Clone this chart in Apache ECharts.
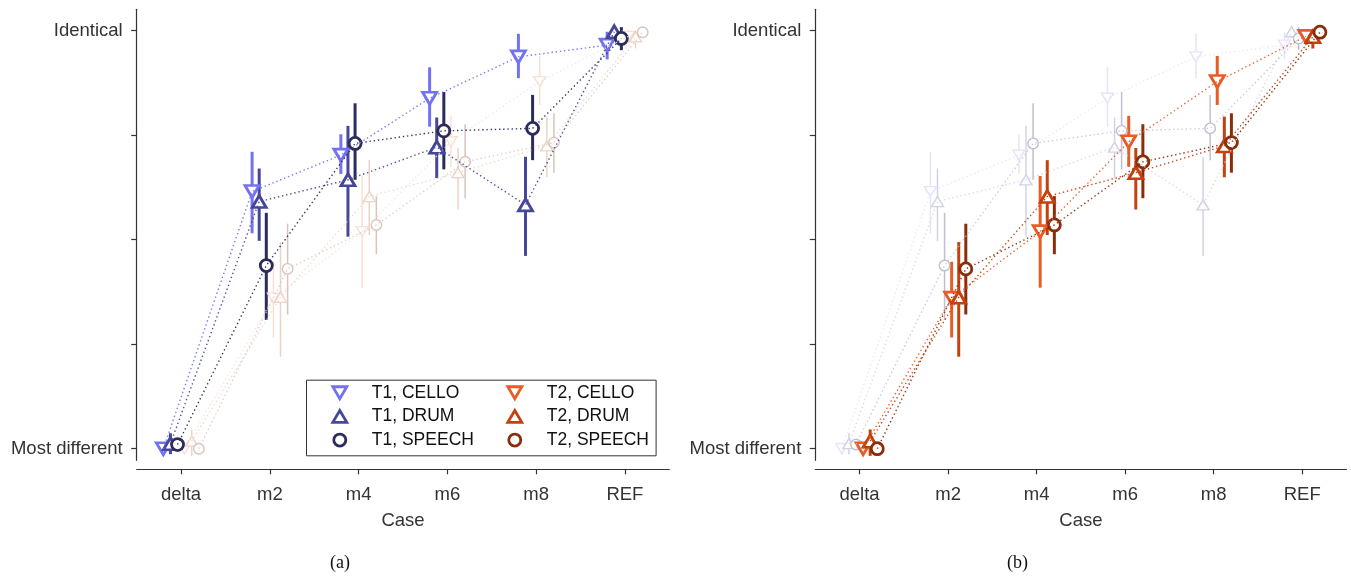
<!DOCTYPE html>
<html>
<head>
<meta charset="utf-8">
<script src="https://cdn.jsdelivr.net/npm/echarts@6/dist/echarts.min.js"></script>
<style>
html, body { margin: 0; padding: 0; background: #fff; }
#chart { width: 1351px; height: 576px; }
</style>
</head>
<body>
<div id="chart"></div>
<script>
// categories and series
var cases = ['delta', 'm2', 'm4', 'm6', 'm8', 'REF'];
var names = ['T1, CELLO', 'T1, DRUM', 'T1, SPEECH', 'T2, CELLO', 'T2, DRUM', 'T2, SPEECH'];
var offsets = [-0.2, -0.12, -0.04, 0.04, 0.12, 0.2];
var yTicks = [0, 0.25, 0.5, 0.75, 1];

// mean scores, lower and upper ends of the error bars
var t1Cello   = [0.0,   0.615, 0.702, 0.838, 0.937, 0.965];
var t1CelloLo = [-0.01, 0.515, 0.657, 0.770, 0.886, 0.931];
var t1CelloHi = [0.01,  0.710, 0.752, 0.912, 0.992, 0.997];

var t1Drum   = [0.012,  0.591, 0.643, 0.721, 0.583, 0.997];
var t1DrumLo = [-0.013, 0.497, 0.507, 0.647, 0.461, 0.982];
var t1DrumHi = [0.037,  0.670, 0.772, 0.792, 0.698, 1.010];

var t1Speech   = [0.01, 0.438, 0.730, 0.760, 0.766, 0.981];
var t1SpeechLo = [0.0,  0.308, 0.643, 0.668, 0.690, 0.953];
var t1SpeechHi = [0.02, 0.564, 0.826, 0.853, 0.846, 1.008];

var t2Cello   = [0.0,    0.360, 0.519, 0.734, 0.878, 0.986];
var t2CelloLo = [-0.012, 0.266, 0.385, 0.674, 0.822, 0.969];
var t2CelloHi = [0.012,  0.447, 0.652, 0.796, 0.939, 1.001];

var t2Drum   = [0.018,  0.362, 0.603, 0.660, 0.724, 0.985];
var t2DrumLo = [-0.017, 0.220, 0.511, 0.572, 0.649, 0.957];
var t2DrumHi = [0.046,  0.494, 0.690, 0.719, 0.794, 1.001];

var t2Speech   = [0.0,    0.430, 0.535, 0.686, 0.732, 0.996];
var t2SpeechLo = [-0.005, 0.321, 0.465, 0.599, 0.660, 0.990];
var t2SpeechHi = [0.005,  0.538, 0.604, 0.776, 0.802, 1.000];

var means = [t1Cello, t1Drum, t1Speech, t2Cello, t2Drum, t2Speech];
var lows  = [t1CelloLo, t1DrumLo, t1SpeechLo, t2CelloLo, t2DrumLo, t2SpeechLo];
var highs = [t1CelloHi, t1DrumHi, t1SpeechHi, t2CelloHi, t2DrumHi, t2SpeechHi];

var strong = ['#7272f2', '#47479a', '#2b2b5c', '#e85d26', '#c4400c', '#8a2d0b'];
var faintA = ['#fbdfd3', '#ecd3c7', '#d9c4b9'];   // T2 in panel (a)
var faintB = ['#e4e4fa', '#d2d2e6', '#bfbfcf'];   // T1 in panel (b)

var downTri = 'path://M0,0L2,0L1,1.7Z';
var upTri = 'path://M1,0L2,1.7L0,1.7Z';
var symbols = [downTri, upTri, 'circle', downTri, upTri, 'circle'];

var chart = echarts.init(document.getElementById('chart'));

function addPanel(series, g, hiT2) {
  var order = hiT2 ? [0, 1, 2, 3, 4, 5] : [3, 4, 5, 0, 1, 2];
  order.forEach(function (i) {
    var isT2 = i >= 3;
    var hi = (isT2 === hiT2);
    var col = hi ? strong[i] : (hiT2 ? faintB[i % 3] : faintA[i % 3]);
    var pts = [], bars = [];
    for (var k = 0; k < cases.length; k++) {
      pts.push([k + offsets[i], means[i][k]]);
      bars.push([k + offsets[i], lows[i][k], highs[i][k]]);
    }
    series.push({
      type: 'line', xAxisIndex: g, yAxisIndex: g, data: pts, symbol: 'none', silent: true,
      lineStyle: { color: col, width: hi ? 1.4 : 1.3, type: [1.4, 2.8], opacity: hi ? 0.95 : 0.85 },
      animation: false
    });
    series.push({
      type: 'custom', xAxisIndex: g, yAxisIndex: g, data: bars, silent: true,
      encode: { x: 0, y: [1, 2] },
      renderItem: function (params, api) {
        var a = api.coord([api.value(0), api.value(1)]);
        var b = api.coord([api.value(0), api.value(2)]);
        return { type: 'line', shape: { x1: a[0], y1: a[1], x2: b[0], y2: b[1] },
          style: { stroke: col, lineWidth: hi ? 3 : 1.5 } };
      },
      animation: false
    });
    var isCircle = symbols[i] === 'circle';
    series.push({
      type: 'scatter', name: (g === 0 ? '' : 'b ') + names[i], xAxisIndex: g, yAxisIndex: g,
      data: pts, symbol: symbols[i],
      symbolSize: hi ? (isCircle ? 12 : [14, 12]) : (isCircle ? 10.5 : [12, 10]),
      itemStyle: { color: '#fff', borderColor: col, borderWidth: hi ? 2.8 : 1.4, opacity: 1 },
      animation: false
    });
  });
}

var series = [];
addPanel(series, 0, false);
addPanel(series, 1, true);

function xAx(g) {
  return {
    type: 'value', gridIndex: g, min: -0.5, max: 5.5, offset: 9,
    name: 'Case', nameLocation: 'middle', nameGap: 42,
    nameTextStyle: { fontSize: 18.5, color: '#333', fontFamily: 'Liberation Sans' },
    axisLine: { show: true, onZero: false, lineStyle: { color: '#333', width: 1.2 } },
    axisTick: { show: true, customValues: [0, 1, 2, 3, 4, 5], length: 5, lineStyle: { color: '#333', width: 1.2 } },
    axisLabel: { customValues: [0, 1, 2, 3, 4, 5], margin: 16, fontSize: 18.5, color: '#333',
      fontFamily: 'Liberation Sans', formatter: function (v) { return cases[Math.round(v)]; } },
    splitLine: { show: false }
  };
}
function yAx(g) {
  return {
    type: 'value', gridIndex: g, min: -0.0277, max: 1.0507,
    axisLine: { show: true, onZero: false, lineStyle: { color: '#333', width: 1.2 } },
    axisTick: { show: true, customValues: yTicks, length: 5.5, lineStyle: { color: '#333', width: 1.2 } },
    axisLabel: { customValues: [0, 1], margin: 14, fontSize: 18.5, color: '#333',
      fontFamily: 'Liberation Sans',
      formatter: function (v) { return v < 0.5 ? 'Most different' : 'Identical'; } },
    splitLine: { show: false }
  };
}

function legendItems(idx) {
  return idx.map(function (i) {
    return { name: names[i], icon: symbols[i],
      itemStyle: { color: '#fff', borderColor: strong[i], borderWidth: 2.8 } };
  });
}
var legendText = { fontSize: 17.5, color: '#111', fontFamily: 'Liberation Sans', lineHeight: 20, padding: [0, 0, 0, 20] };

option = {
  backgroundColor: '#fff',
  animation: false,
  grid: [
    { left: 136.7, top: 9.3, width: 532.6, height: 451 },
    { left: 815.3, top: 9.3, width: 531.2, height: 451 }
  ],
  xAxis: [xAx(0), xAx(1)],
  yAxis: [yAx(0), yAx(1)],
  legend: [
    { orient: 'vertical', left: 331.4, top: 382.7, padding: 0, itemWidth: 14, itemHeight: 12, itemGap: 3.7,
      selectedMode: false, data: legendItems([0, 1, 2]), textStyle: legendText },
    { orient: 'vertical', left: 506.4, top: 382.7, padding: 0, itemWidth: 14, itemHeight: 12, itemGap: 3.7,
      selectedMode: false, data: legendItems([3, 4, 5]), textStyle: legendText }
  ],
  graphic: [
    { type: 'rect', left: 304, top: 377.7, shape: { width: 349.6, height: 75.6 },
      style: { fill: 'none', stroke: '#333', lineWidth: 1 }, z: 0 },
    { type: 'text', left: 330, top: 554, style: { text: '(a)', fontSize: 18, fontFamily: 'Liberation Serif', fill: '#111' } },
    { type: 'text', left: 1007, top: 554, style: { text: '(b)', fontSize: 18, fontFamily: 'Liberation Serif', fill: '#111' } }
  ],
  series: series
};
chart.setOption(option);
window.addEventListener('resize', function () { chart.resize(); });
</script>
</body>
</html>
